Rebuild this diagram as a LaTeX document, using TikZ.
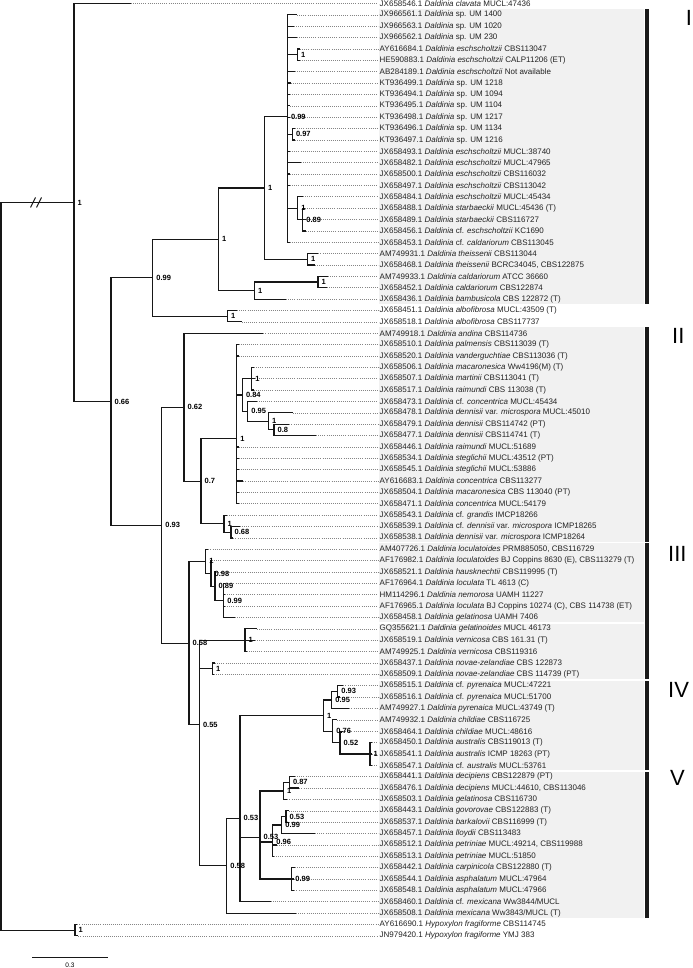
\documentclass[tikz,border=0pt]{standalone}
\usepackage{fontspec}
\setmainfont{Liberation Sans}
\usetikzlibrary{calc}
\definecolor{treeline}{HTML}{171717}
\definecolor{leaderdot}{HTML}{858585}
\definecolor{labeltext}{HTML}{222222}
\definecolor{cladeshade}{HTML}{F1F1F1}
\definecolor{cladebar}{HTML}{1A1A1A}
% one tip of the tree: index, end of the solid branch, parent, text
\newcommand{\taxonrow}[4]{%
  \coordinate (t#1) at (#2,#1);
  \node[taxonlabel] (l#1) at (379.5,#1) {#4};
  \draw[branch] (#3) |- (t#1);
  \draw[leader] (t#1) -- (l#1.west);
}

\begin{document}
\begin{tikzpicture}[x=1pt, y=-11.37pt,
    branch/.style={draw=treeline, line width=1.2pt},
    leader/.style={draw=leaderdot, line width=0.6pt, dash pattern=on 0.6pt off 1.5pt, shorten >=1.5pt},
    taxonlabel/.style={anchor=west, inner sep=0pt, text=labeltext, font=\fontsize{8}{9}\selectfont},
    support/.style={anchor=west, inner sep=0pt, xshift=3.5pt, font=\fontsize{7.5}{8}\selectfont\bfseries},
    cladename/.style={anchor=west, inner sep=0pt, font=\fontsize{22}{22}\selectfont},
    cladebox/.style={fill=cladeshade, draw=none},
    barbox/.style={fill=cladebar, draw=none}]
  \useasboundingbox (0,0.6922) rectangle (692,85.826);

  % clade backgrounds
  \fill[cladebox] (379,1.5) rectangle (644,27.47);
  \fill[cladebox] (379,29.44) rectangle (644,48.35);
  \fill[cladebox] (379,48.47) rectangle (644,55.4);
  \fill[cladebox] (379,55.57) rectangle (644,60.43);
  \fill[cladebox] (379,60.58) rectangle (644,68.37);
  \fill[cladebox] (379,68.56) rectangle (644,81.46);
  \fill[barbox] (644.5,1.5) rectangle (648.5,27.47);
  \fill[barbox] (644.5,29.44) rectangle (648.5,48.35);
  \fill[barbox] (644.5,48.47) rectangle (648.5,60.43);
  \fill[barbox] (644.5,60.58) rectangle (648.5,68.37);
  \fill[barbox] (644.5,68.56) rectangle (648.5,81.46);
  \node[cladename] (cI) at (685.7,2.23) {I};
  \node[cladename] (cII) at (672,30.24) {II};
  \node[cladename] (cIII) at (668,49.44) {III};
  \node[cladename] (cIV) at (668,61.38) {IV};
  \node[cladename] (cV) at (670,69.07) {V};

  % inner nodes
  \coordinate (root) at (1,50.5);
  \coordinate (ingroup) at (74,18.499);
  \coordinate (core) at (111,35.998);
  \coordinate (grpone) at (152.7,25.117);
  \coordinate (eschcald) at (218.3,21.734);
  \coordinate (eschtheis) at (264.3,17.219);
  \coordinate (esch) at (287.3,10.9375);
  \coordinate (eschpair) at (297.3,5.5);
  \coordinate (umpair) at (292.3,12.5);
  \coordinate (starb) at (297.7,19);
  \coordinate (starbsub) at (302.7,20);
  \coordinate (theis) at (307.3,23.5);
  \coordinate (caldbamb) at (254.3,26.25);
  \coordinate (cald) at (318,25.5);
  \coordinate (albo) at (227.3,28.5);
  \coordinate (rest) at (161.7,46.879);
  \coordinate (grptwo) at (184,36.505);
  \coordinate (concgran) at (201,43.011);
  \coordinate (conc) at (236.7,39.271);
  \coordinate (macden) at (242.3,35.4375);
  \coordinate (macar) at (251.7,34);
  \coordinate (denn) at (247.7,36.875);
  \coordinate (dennsub) at (268.3,37.75);
  \coordinate (dennpair) at (274,38.5);
  \coordinate (grandis) at (224,46.75);
  \coordinate (grandsub) at (231,47.5);
  \coordinate (lowhalf) at (189,57.252);
  \coordinate (locul) at (205.7,50.0625);
  \coordinate (loculv) at (211,51.125);
  \coordinate (loculw) at (215,52.25);
  \coordinate (loculx) at (223.7,53.5);
  \coordinate (verngrp) at (199.3,64.442);
  \coordinate (vern) at (245,57);
  \coordinate (novae) at (212.3,59.5);
  \coordinate (cladeIVV) at (226.7,76.826);
  \coordinate (pyrdec) at (240,72.653);
  \coordinate (pyren) at (323.3,63.625);
  \coordinate (pyrsub) at (331.7,62.25);
  \coordinate (pyrpair) at (337.7,61.5);
  \coordinate (child) at (332.7,65);
  \coordinate (childsub) at (340,66);
  \coordinate (austr) at (370,67);
  \coordinate (decgrp) at (260,74.333);
  \coordinate (decip) at (283.3,70.25);
  \coordinate (decpair) at (289.3,69.5);
  \coordinate (petr) at (272.7,74.75);
  \coordinate (govlloyd) at (281.7,73.25);
  \coordinate (govpair) at (286,72.5);
  \coordinate (asph) at (291.7,78);
  \coordinate (hypox) at (75,82.5);

  % inner branches
  \draw[branch] (root) |- (ingroup);
  \draw[branch] (root) |- (hypox);
  \draw[branch] (ingroup) |- (core);
  \draw[branch] (core) |- (grpone);
  \draw[branch] (core) |- (rest);
  \draw[branch] (grpone) |- (eschcald);
  \draw[branch] (grpone) |- (albo);
  \draw[branch] (eschcald) |- (eschtheis);
  \draw[branch] (eschcald) |- (caldbamb);
  \draw[branch] (eschtheis) |- (esch);
  \draw[branch] (eschtheis) |- (theis);
  \draw[branch] (esch) |- (eschpair);
  \draw[branch] (esch) |- (umpair);
  \draw[branch] (esch) |- (starb);
  \draw[branch] (starb) |- (starbsub);
  \draw[branch] (caldbamb) |- (cald);
  \draw[branch] (rest) |- (grptwo);
  \draw[branch] (rest) |- (lowhalf);
  \draw[branch] (grptwo) |- (concgran);
  \draw[branch] (concgran) |- (conc);
  \draw[branch] (concgran) |- (grandis);
  \draw[branch] (conc) |- (macden);
  \draw[branch] (macden) |- (macar);
  \draw[branch] (macden) |- (denn);
  \draw[branch] (denn) |- (dennsub);
  \draw[branch] (dennsub) |- (dennpair);
  \draw[branch] (grandis) |- (grandsub);
  \draw[branch] (lowhalf) |- (locul);
  \draw[branch] (lowhalf) |- (verngrp);
  \draw[branch] (locul) |- (loculv);
  \draw[branch] (loculv) |- (loculw);
  \draw[branch] (loculw) |- (loculx);
  \draw[branch] (verngrp) |- (vern);
  \draw[branch] (verngrp) |- (novae);
  \draw[branch] (verngrp) |- (cladeIVV);
  \draw[branch] (cladeIVV) |- (pyrdec);
  \draw[branch] (pyrdec) |- (pyren);
  \draw[branch] (pyrdec) |- (decgrp);
  \draw[branch] (pyren) |- (pyrsub);
  \draw[branch] (pyren) |- (child);
  \draw[branch] (pyrsub) |- (pyrpair);
  \draw[branch] (child) |- (childsub);
  \draw[branch] (childsub) |- (austr);
  \draw[branch] (decgrp) |- (decip);
  \draw[branch] (decgrp) |- (petr);
  \draw[branch] (decgrp) |- (asph);
  \draw[branch] (decip) |- (decpair);
  \draw[branch] (petr) |- (govlloyd);
  \draw[branch] (govlloyd) |- (govpair);

  % break on the long root branch
  \coordinate (brk) at (36,18.499);
  \draw[branch, line width=1pt] ($(brk)+(-5.5pt,-5pt)$) -- ($(brk)+(-0.5pt,5pt)$);
  \draw[branch, line width=1pt] ($(brk)+(0.5pt,-5pt)$) -- ($(brk)+(5.5pt,5pt)$);

  % tips
  \taxonrow{1}{130.7}{ingroup}{JX658546.1 \textit{Daldinia clavata} MUCL:47436}
  \taxonrow{2}{297}{esch}{JX966561.1 \textit{Daldinia} sp. UM 1400}
  \taxonrow{3}{294}{esch}{JX966563.1 \textit{Daldinia} sp. UM 1020}
  \taxonrow{4}{296.5}{esch}{JX966562.1 \textit{Daldinia} sp. UM 230}
  \taxonrow{5}{300}{eschpair}{AY616684.1 \textit{Daldinia eschscholtzii} CBS113047}
  \taxonrow{6}{299.5}{eschpair}{HE590883.1 \textit{Daldinia eschscholtzii} CALP11206 (ET)}
  \taxonrow{7}{294.5}{esch}{AB284189.1 \textit{Daldinia eschscholtzii} Not available}
  \taxonrow{8}{290.5}{esch}{KT936499.1 \textit{Daldinia} sp. UM 1218}
  \taxonrow{9}{290}{esch}{KT936494.1 \textit{Daldinia} sp. UM 1094}
  \taxonrow{10}{290}{esch}{KT936495.1 \textit{Daldinia} sp. UM 1104}
  \taxonrow{11}{290}{esch}{KT936498.1 \textit{Daldinia} sp. UM 1217}
  \taxonrow{12}{295}{umpair}{KT936496.1 \textit{Daldinia} sp. UM 1134}
  \taxonrow{13}{295}{umpair}{KT936497.1 \textit{Daldinia} sp. UM 1216}
  \taxonrow{14}{290}{esch}{JX658493.1 \textit{Daldinia eschscholtzii} MUCL:38740}
  \taxonrow{15}{301}{esch}{JX658482.1 \textit{Daldinia eschscholtzii} MUCL:47965}
  \taxonrow{16}{290}{esch}{JX658500.1 \textit{Daldinia eschscholtzii} CBS116032}
  \taxonrow{17}{290}{esch}{JX658497.1 \textit{Daldinia eschscholtzii} CBS113042}
  \taxonrow{18}{303}{starb}{JX658484.1 \textit{Daldinia eschscholtzii} MUCL:45434}
  \taxonrow{19}{305}{starbsub}{JX658488.1 \textit{Daldinia starbaeckii} MUCL:45436 (T)}
  \taxonrow{20}{306}{starbsub}{JX658489.1 \textit{Daldinia starbaeckii} CBS116727}
  \taxonrow{21}{306}{starbsub}{JX658456.1 \textit{Daldinia} cf. \textit{eschscholtzii} KC1690}
  \taxonrow{22}{289.5}{esch}{JX658453.1 \textit{Daldinia} cf. \textit{caldariorum} CBS113045}
  \taxonrow{23}{318.3}{theis}{AM749931.1 \textit{Daldinia theissenii} CBS113044}
  \taxonrow{24}{315}{theis}{JX658468.1 \textit{Daldinia theissenii} BCRC34045, CBS122875}
  \taxonrow{25}{328}{cald}{AM749933.1 \textit{Daldinia caldariorum} ATCC 36660}
  \taxonrow{26}{326.7}{cald}{JX658452.1 \textit{Daldinia caldariorum} CBS122874}
  \taxonrow{27}{286}{caldbamb}{JX658436.1 \textit{Daldinia bambusicola} CBS 122872 (T)}
  \taxonrow{28}{237}{albo}{JX658451.1 \textit{Daldinia albofibrosa} MUCL:43509 (T)}
  \taxonrow{29}{241.7}{albo}{JX658518.1 \textit{Daldinia albofibrosa} CBS117737}
  \taxonrow{30}{263.3}{grptwo}{AM749918.1 \textit{Daldinia andina} CBS114736}
  \taxonrow{31}{238.5}{conc}{JX658510.1 \textit{Daldinia palmensis} CBS113039 (T)}
  \taxonrow{32}{238.5}{conc}{JX658520.1 \textit{Daldinia vanderguchtiae} CBS113036 (T)}
  \taxonrow{33}{254}{macar}{JX658506.1 \textit{Daldinia macaronesica} Ww4196(M) (T)}
  \taxonrow{34}{254.5}{macar}{JX658507.1 \textit{Daldinia martinii} CBS113041 (T)}
  \taxonrow{35}{253.5}{macar}{JX658517.1 \textit{Daldinia raimundi} CBS 113038 (T)}
  \taxonrow{36}{256.7}{denn}{JX658473.1 \textit{Daldinia} cf. \textit{concentrica} MUCL:45434}
  \taxonrow{37}{292.7}{dennsub}{JX658478.1 \textit{Daldinia dennisii} var. \textit{microspora} MUCL:45010}
  \taxonrow{38}{289.3}{dennpair}{JX658479.1 \textit{Daldinia dennisii} CBS114742 (PT)}
  \taxonrow{39}{316}{dennpair}{JX658477.1 \textit{Daldinia dennisii} CBS114741 (T)}
  \taxonrow{40}{238.5}{conc}{JX658446.1 \textit{Daldinia raimundi} MUCL:51689}
  \taxonrow{41}{238.5}{conc}{JX658534.1 \textit{Daldinia steglichii} MUCL:43512 (PT)}
  \taxonrow{42}{238.5}{conc}{JX658545.1 \textit{Daldinia steglichii} MUCL:53886}
  \taxonrow{43}{243.3}{conc}{AY616683.1 \textit{Daldinia concentrica} CBS113277}
  \taxonrow{44}{238.5}{conc}{JX658504.1 \textit{Daldinia macaronesica} CBS 113040 (PT)}
  \taxonrow{45}{238.5}{conc}{JX658471.1 \textit{Daldinia concentrica} MUCL:54179}
  \taxonrow{46}{227}{grandis}{JX658543.1 \textit{Daldinia} cf. \textit{grandis} IMCP18266}
  \taxonrow{47}{240}{grandsub}{JX658539.1 \textit{Daldinia} cf. \textit{dennisii} var. \textit{microspora} ICMP18265}
  \taxonrow{48}{233.3}{grandsub}{JX658538.1 \textit{Daldinia dennisii} var. \textit{microspora} ICMP18264}
  \taxonrow{49}{208.3}{locul}{AM407726.1 \textit{Daldinia loculatoides} PRM885050, CBS116729}
  \taxonrow{50}{212}{loculv}{AF176982.1 \textit{Daldinia loculatoides} BJ Coppins 8630 (E), CBS113279 (T)}
  \taxonrow{51}{216}{loculw}{JX658521.1 \textit{Daldinia hausknechtii} CBS119995 (T)}
  \taxonrow{52}{225}{loculx}{AF176964.1 \textit{Daldinia loculata} TL 4613 (C)}
  \taxonrow{53}{225}{loculx}{HM114296.1 \textit{Daldinia nemorosa} UAMH 11227}
  \taxonrow{54}{225}{loculx}{AF176965.1 \textit{Daldinia loculata} BJ Coppins 10274 (C), CBS 114738 (ET)}
  \taxonrow{55}{235}{loculx}{JX658458.1 \textit{Daldinia gelatinosa} UAMH 7406}
  \taxonrow{56}{256.7}{vern}{GQ355621.1 \textit{Daldinia gelatinoides} MUCL 46173}
  \taxonrow{57}{255}{vern}{JX658519.1 \textit{Daldinia vernicosa} CBS 161.31 (T)}
  \taxonrow{58}{246.7}{vern}{AM749925.1 \textit{Daldinia vernicosa} CBS119316}
  \taxonrow{59}{215}{novae}{JX658437.1 \textit{Daldinia novae-zelandiae} CBS 122873}
  \taxonrow{60}{214}{novae}{JX658509.1 \textit{Daldinia novae-zelandiae} CBS 114739 (PT)}
  \taxonrow{61}{343.3}{pyrpair}{JX658515.1 \textit{Daldinia} cf. \textit{pyrenaica} MUCL:47221}
  \taxonrow{62}{340}{pyrpair}{JX658516.1 \textit{Daldinia} cf. \textit{pyrenaica} MUCL:51700}
  \taxonrow{63}{349.3}{pyrsub}{AM749927.1 \textit{Daldinia pyrenaica} MUCL:43749 (T)}
  \taxonrow{64}{336.7}{child}{AM749932.1 \textit{Daldinia childiae} CBS116725}
  \taxonrow{65}{343}{childsub}{JX658464.1 \textit{Daldinia childiae} MUCL:48616}
  \taxonrow{66}{372}{austr}{JX658450.1 \textit{Daldinia australis} CBS119013 (T)}
  \taxonrow{67}{372}{austr}{JX658541.1 \textit{Daldinia australis} ICMP 18263 (PT)}
  \taxonrow{68}{372}{austr}{JX658547.1 \textit{Daldinia} cf. \textit{australis} MUCL:53761}
  \taxonrow{69}{295}{decpair}{JX658441.1 \textit{Daldinia decipiens} CBS122879 (PT)}
  \taxonrow{70}{299.3}{decpair}{JX658476.1 \textit{Daldinia decipiens} MUCL:44610, CBS113046}
  \taxonrow{71}{287.3}{decip}{JX658503.1 \textit{Daldinia gelatinosa} CBS116730}
  \taxonrow{72}{288.5}{govpair}{JX658443.1 \textit{Daldinia govorovae} CBS122883 (T)}
  \taxonrow{73}{289}{govpair}{JX658537.1 \textit{Daldinia barkalovii} CBS116999 (T)}
  \taxonrow{74}{315}{govlloyd}{JX658457.1 \textit{Daldinia lloydii} CBS113483}
  \taxonrow{75}{277}{petr}{JX658512.1 \textit{Daldinia petriniae} MUCL:49214, CBS119988}
  \taxonrow{76}{274}{petr}{JX658513.1 \textit{Daldinia petriniae} MUCL:51850}
  \taxonrow{77}{295}{asph}{JX658442.1 \textit{Daldinia carpinicola} CBS122880 (T)}
  \taxonrow{78}{294}{asph}{JX658544.1 \textit{Daldinia asphalatum} MUCL:47964}
  \taxonrow{79}{294.3}{asph}{JX658548.1 \textit{Daldinia asphalatum} MUCL:47966}
  \taxonrow{80}{270.7}{pyrdec}{JX658460.1 \textit{Daldinia} cf. \textit{mexicana} Ww3844/MUCL}
  \taxonrow{81}{296}{cladeIVV}{JX658508.1 \textit{Daldinia mexicana} Ww3843/MUCL (T)}
  \taxonrow{82}{77.3}{hypox}{AY616690.1 \textit{Hypoxylon fragiforme} CBS114745}
  \taxonrow{83}{78.3}{hypox}{JN979420.1 \textit{Hypoxylon fragiforme} YMJ 383}

  % support values
  \node[support] (s-ingroup) at (ingroup) {1};
  \node[support] (s-core) at (core) {0.66};
  \node[support] (s-grpone) at (grpone) {0.99};
  \node[support] (s-eschcald) at (eschcald) {1};
  \node[support] (s-eschtheis) at (eschtheis) {1};
  \node[support] (s-esch) at (esch) {0.99};
  \node[support] (s-eschpair) at (eschpair) {1};
  \node[support] (s-umpair) at (umpair) {0.97};
  \node[support] (s-starb) at (starb) {1};
  \node[support] (s-starbsub) at (starbsub) {0.89};
  \node[support] (s-theis) at (theis) {1};
  \node[support] (s-caldbamb) at (caldbamb) {1};
  \node[support] (s-cald) at (cald) {1};
  \node[support] (s-albo) at (albo) {1};
  \node[support] (s-rest) at (rest) {0.93};
  \node[support] (s-grptwo) at (grptwo) {0.62};
  \node[support] (s-concgran) at (concgran) {0.7};
  \node[support] (s-conc) at (conc) {1};
  \node[support] (s-macden) at (macden) {0.84};
  \node[support] (s-macar) at (macar) {1};
  \node[support] (s-denn) at (denn) {0.95};
  \node[support] (s-dennsub) at (dennsub) {1};
  \node[support] (s-dennpair) at (dennpair) {0.8};
  \node[support] (s-grandis) at (grandis) {1};
  \node[support] (s-grandsub) at (grandsub) {0.68};
  \node[support] (s-lowhalf) at (lowhalf) {0.58};
  \node[support] (s-locul) at (locul) {1};
  \node[support] (s-loculv) at (loculv) {0.98};
  \node[support] (s-loculw) at (loculw) {0.89};
  \node[support] (s-loculx) at (loculx) {0.99};
  \node[support] (s-verngrp) at (verngrp) {0.55};
  \node[support] (s-vern) at (vern) {1};
  \node[support] (s-novae) at (novae) {1};
  \node[support] (s-cladeIVV) at (cladeIVV) {0.58};
  \node[support] (s-pyrdec) at (pyrdec) {0.53};
  \node[support] (s-pyren) at (pyren) {1};
  \node[support] (s-pyrsub) at (pyrsub) {0.95};
  \node[support] (s-pyrpair) at (pyrpair) {0.93};
  \node[support] (s-child) at (child) {0.76};
  \node[support] (s-childsub) at (childsub) {0.52};
  \node[support] (s-austr) at (austr) {1};
  \node[support] (s-decgrp) at (decgrp) {0.53};
  \node[support] (s-decip) at (decip) {1};
  \node[support] (s-decpair) at (decpair) {0.87};
  \node[support] (s-petr) at (petr) {0.96};
  \node[support] (s-govlloyd) at (govlloyd) {0.99};
  \node[support] (s-govpair) at (govpair) {0.53};
  \node[support] (s-asph) at (asph) {0.99};
  \node[support] (s-hypox) at (hypox) {1};

  % scale bar
  \coordinate (sb0) at (32,84.92);
  \coordinate (sb1) at (108,84.92);
  \draw[branch] (sb0) -- (sb1);
  \node[font=\fontsize{6.5}{7}\selectfont, inner sep=0pt] (sblabel) at ($(sb0)!0.5!(sb1)+(0,0.66)$) {0.3};
\end{tikzpicture}
\end{document}
